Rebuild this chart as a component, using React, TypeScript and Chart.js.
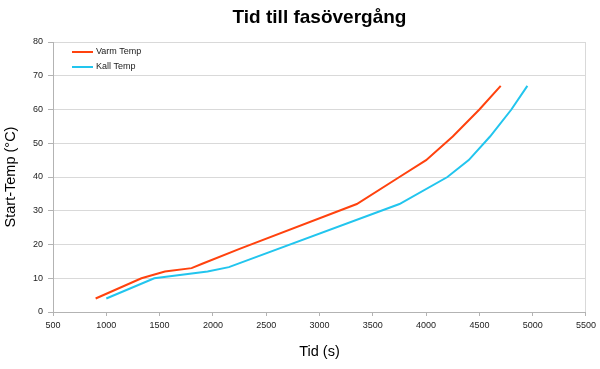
import React, { useEffect, useRef } from "react";
import { Chart, registerables } from "chart.js";

Chart.register(...registerables);

const chartTitle = "Tid till fasövergång";
const xAxisTitle = "Tid (s)";
const yAxisTitle = "Start-Temp (°C)";

const varmLabel = "Varm Temp";
const varmTime = [900, 1330, 1550, 1800, 1900, 2250, 3350, 3750, 4000, 4250, 4500, 4700];
const varmTemp = [4, 10, 12, 13, 14.3, 18.7, 32, 40, 45, 52, 60, 67];

const kallLabel = "Kall Temp";
const kallTime = [1000, 1450, 1950, 2150, 3750, 4200, 4400, 4600, 4800, 4950];
const kallTemp = [4, 10, 12, 13.3, 32, 40, 45, 52, 60, 67];

const xTickMin = 500;
const xTickMax = 5500;
const xTickStep = 500;
const yTickMin = 0;
const yTickMax = 80;
const yTickStep = 10;

const varmColor = "#ff420e";
const kallColor = "#22c5ee";
const FONT = "'Liberation Sans', Arial, sans-serif";

export default function App() {
  const ref = useRef<HTMLCanvasElement | null>(null);

  useEffect(() => {
    if (!ref.current) return;
    const toPts = (xs: number[], ys: number[]) => xs.map((x, i) => ({ x, y: ys[i] }));

    const decorPlugin = {
      id: "decor",
      afterDraw(chart: any) {
        const { ctx, chartArea } = chart;
        ctx.save();
        ctx.fillStyle = "#000";
        ctx.font = `bold 19px ${FONT}`;
        ctx.textAlign = "center";
        ctx.textBaseline = "middle";
        ctx.fillText(chartTitle, (chartArea.left + chartArea.right) / 2, 18);
        const items = chart.data.datasets.map((d: any) => ({ label: d.label, color: d.borderColor }));
        ctx.font = `9px ${FONT}`;
        ctx.textAlign = "left";
        items.forEach((it: any, i: number) => {
          const y = chartArea.top + 10 + i * 15;
          ctx.strokeStyle = it.color;
          ctx.lineWidth = 2;
          ctx.beginPath();
          ctx.moveTo(chartArea.left + 19, y);
          ctx.lineTo(chartArea.left + 40, y);
          ctx.stroke();
          ctx.fillStyle = "#222";
          ctx.fillText(it.label, chartArea.left + 43, y);
        });
        ctx.restore();
      },
    };

    const chart = new Chart(ref.current, {
      type: "scatter",
      data: {
        datasets: [
          {
            label: varmLabel,
            data: toPts(varmTime, varmTemp),
            showLine: true,
            borderColor: varmColor,
            backgroundColor: varmColor,
            borderWidth: 2,
            pointRadius: 0,
            tension: 0,
          },
          {
            label: kallLabel,
            data: toPts(kallTime, kallTemp),
            showLine: true,
            borderColor: kallColor,
            backgroundColor: kallColor,
            borderWidth: 2,
            pointRadius: 0,
            tension: 0,
          },
        ],
      },
      options: {
        responsive: false,
        animation: false,
        layout: { padding: { top: 42, right: 14, left: 0, bottom: 0 } },
        plugins: {
          legend: { display: false },
          title: { display: false },
          tooltip: { enabled: false },
        },
        scales: {
          x: {
            type: "linear",
            min: xTickMin,
            max: xTickMax,
            ticks: {
              stepSize: xTickStep,
              color: "#222",
              font: { family: FONT, size: 9 },
              padding: 4,
              maxRotation: 0,
              callback: (v: any) => String(v),
            },
            grid: {
              color: (c: any) => (c.tick && c.tick.value === xTickMax ? "#d9d9d9" : "rgba(0,0,0,0)"),
              tickColor: "#b3b3b3",
              tickLength: 4,
            },
            border: { color: "#b3b3b3" },
            title: {
              display: true,
              text: xAxisTitle,
              color: "#000",
              font: { family: FONT, size: 14.5 },
              padding: { top: 0, bottom: 8 },
            },
            afterFit: (s: any) => {
              s.height = 57;
            },
          },
          y: {
            min: yTickMin,
            max: yTickMax,
            ticks: {
              stepSize: yTickStep,
              color: "#222",
              font: { family: FONT, size: 9 },
              padding: 5,
              callback: (v: any) => String(v),
            },
            grid: {
              color: "#d9d9d9",
              tickColor: "#b3b3b3",
              tickLength: 5,
            },
            border: { color: "#b3b3b3" },
            title: {
              display: true,
              text: yAxisTitle,
              color: "#000",
              font: { family: FONT, size: 14.5 },
              padding: { top: 2, bottom: 0 },
            },
            afterFit: (s: any) => {
              s.width = 53;
            },
          },
        },
      },
      plugins: [decorPlugin],
    } as any);

    return () => chart.destroy();
  }, []);

  return (
    <div style={{ position: "absolute", left: 0, top: 0, width: 600, height: 369, background: "#fff" }}>
      <canvas ref={ref} width={600} height={369} />
    </div>
  );
}
